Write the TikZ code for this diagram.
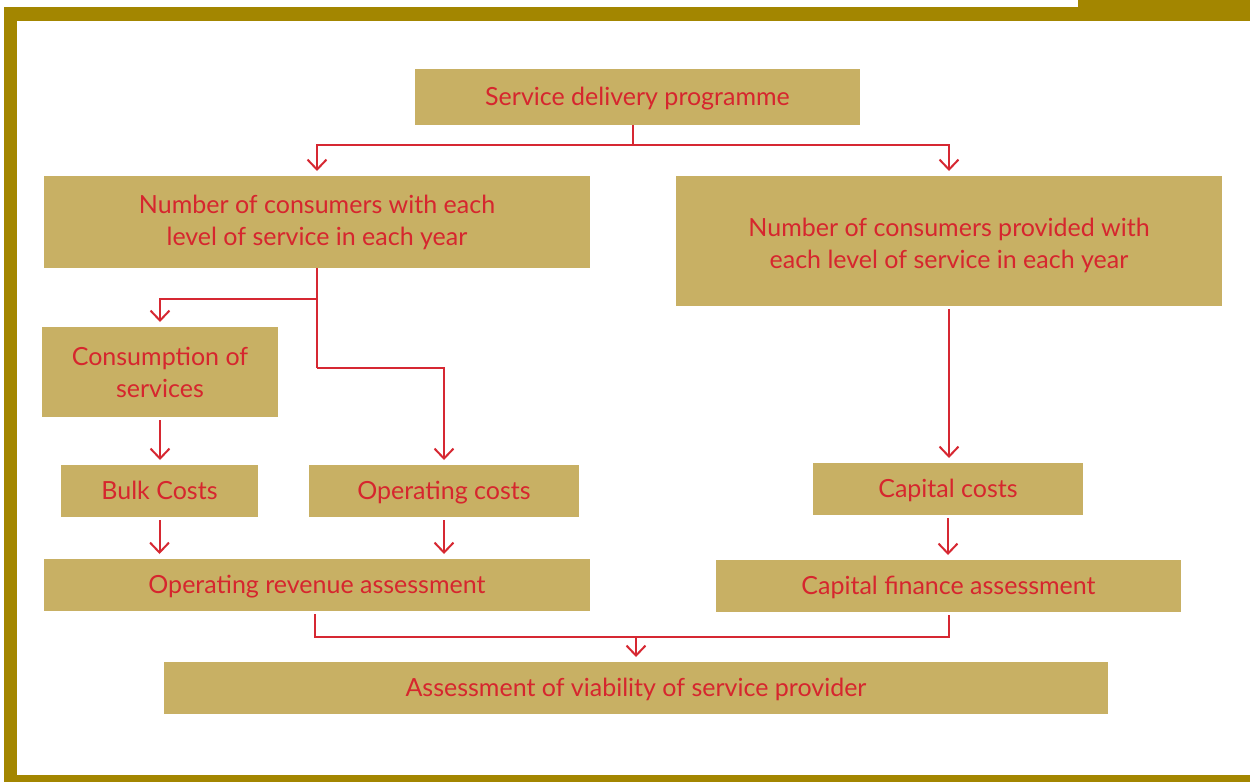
\documentclass[tikz,border=0pt]{standalone}
\usepackage{fontspec}
\setmainfont{Lato}
\usetikzlibrary{arrows.meta}
\definecolor{frame}{RGB}{163,134,0}
\definecolor{boxfill}{RGB}{200,176,100}
\definecolor{txtred}{RGB}{214,38,46}
\definecolor{lnred}{RGB}{214,40,50}
\tikzset{
  box/.style={fill=boxfill, inner sep=0pt, outer sep=0pt, align=center, text=txtred,
    font=\fontsize{25}{32}\selectfont},
  onebox/.style={box, text height=23pt, text depth=6pt},
  ln/.style={draw=lnred, line width=2pt},
  arr/.style={ln, -{Straight Barb[length=10pt,width=19pt]}, shorten >=5pt},
}
\begin{document}
\begin{tikzpicture}[x=1pt,y=-1pt]
\useasboundingbox (0,0) rectangle (1250,782);
% frame
\fill[frame] (4,7) rectangle (1078,21);
\fill[frame] (1078,0) rectangle (1250,21);
\fill[frame] (4,7) rectangle (17,782);
\fill[frame] (4,775) rectangle (1250,782);
% boxes
\node[onebox, minimum width=445pt, minimum height=56pt] (s) at (637.5,97) {Service delivery programme};
\node[box, minimum width=546pt, minimum height=92pt] (n1) at (317,222) {Number of consumers with each\\level of service in each year};
\node[box, minimum width=546pt, minimum height=130pt] (n2) at (949,241) {\rule{0pt}{27pt}Number of consumers provided with\\each level of service in each year};
\node[box, minimum width=236pt, minimum height=90pt] (c) at (160,372) {Consumption of\\services};
\node[onebox, minimum width=197pt, minimum height=52pt] (b) at (159.5,491) {Bulk Costs};
\node[onebox, minimum width=270pt, minimum height=52pt] (oc) at (444,491) {Operating costs};
\node[onebox, minimum width=270pt, minimum height=52pt] (cc) at (948,489) {Capital costs};
\node[onebox, minimum width=546pt, minimum height=52pt] (or) at (317,585) {Operating revenue assessment};
\node[onebox, minimum width=465pt, minimum height=52pt] (cf) at (948.5,586) {Capital finance assessment};
\node[onebox, minimum width=944pt, minimum height=52pt] (v) at (636,688) {Assessment of viability of service provider};
% connectors
\coordinate (j1) at (633,145);
\draw[ln] (s.south -| j1) -- (j1);
\draw[arr] (j1) -| (n1.north);
\draw[arr] (j1) -| (n2.north);
\coordinate (j2) at (317,299);
\coordinate (j3) at (317,368);
\draw[ln] (n1.south) -- (j3);
\draw[arr] (j2) -| (c.north);
\draw[arr] (j3) -| (oc.north);
\draw[arr, shorten <=3pt] (c.south) -- (b.north -| c.south);
\draw[arr, shorten <=3pt] (b.south) -- (or.north -| b.south);
\draw[arr, shorten <=3pt] (oc.south) -- (or.north -| oc.south);
\draw[arr, shorten <=3pt] (n2.south) -- (cc.north -| n2.south);
\draw[arr, shorten <=3pt] (cc.south) -- (cf.north -| cc.south);
\coordinate (j4) at (315,637);
\coordinate (j5) at (949,637);
\coordinate (j6) at (636,637);
\draw[ln, shorten <=3pt] (or.south -| j4) -- (j4) -- (j5) -- ([yshift=-3pt]cf.south -| j5);
\draw[arr] (j6) -- (v.north);
\end{tikzpicture}
\end{document}
